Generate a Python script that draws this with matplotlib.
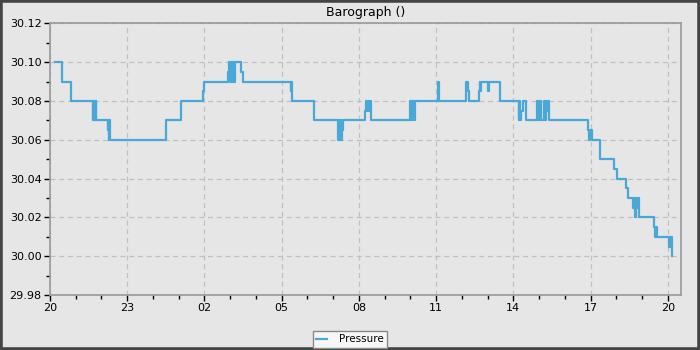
import matplotlib
matplotlib.use("Agg")
import matplotlib.pyplot as plt
from matplotlib.patches import Rectangle
from matplotlib.ticker import MultipleLocator

hours = [
    0.19, 0.47, 0.82,
    1.67, 1.69, 1.71, 1.73, 1.75, 1.77, 1.78,
    2.24, 2.26, 2.28, 2.30, 2.32,
    4.51, 5.09, 5.94, 5.98,
    6.92, 6.96, 7.00, 7.03, 7.06, 7.10, 7.13, 7.17, 7.19, 7.41, 7.48,
    9.35, 9.37, 9.39, 9.42,
    10.26,
    11.20, 11.23, 11.26, 11.29, 11.32, 11.35, 11.37,
    12.24, 12.27, 12.30, 12.36, 12.40, 12.42, 12.46,
    14.00, 14.03, 14.06, 14.09, 14.12, 14.15, 14.18,
    15.07, 15.10,
    16.18, 16.22, 16.28,
    16.66, 16.69, 16.72, 16.75,
    17.01, 17.05, 17.50,
    18.20, 18.23, 18.26, 18.30, 18.36, 18.49,
    18.91, 18.94, 18.97, 19.00, 19.03, 19.08,
    19.20, 19.23, 19.27, 19.31, 19.35, 19.39,
    20.90, 20.94, 20.98, 21.04,
    21.37, 21.90, 22.03,
    22.39, 22.44,
    22.64, 22.68, 22.72, 22.76, 22.80, 22.84, 22.87,
    23.45, 23.50, 23.54, 23.58,
    24.06, 24.10, 24.16, 24.17,
]
pressure = [
    30.100, 30.090, 30.080,
    30.070, 30.080, 30.070, 30.080, 30.070, 30.080, 30.070,
    30.065, 30.070, 30.060, 30.070, 30.060,
    30.070, 30.080, 30.085, 30.090,
    30.095, 30.100, 30.090, 30.100, 30.090, 30.100, 30.090, 30.100, 30.100, 30.095, 30.090,
    30.085, 30.090, 30.085, 30.080,
    30.070,
    30.060, 30.070, 30.060, 30.070, 30.060, 30.065, 30.070,
    30.075, 30.080, 30.075, 30.080, 30.075, 30.080, 30.070,
    30.080, 30.070, 30.080, 30.070, 30.080, 30.070, 30.080,
    30.090, 30.080,
    30.090, 30.085, 30.080,
    30.085, 30.090, 30.085, 30.090,
    30.085, 30.090, 30.080,
    30.070, 30.080, 30.070, 30.075, 30.080, 30.070,
    30.080, 30.070, 30.080, 30.070, 30.080, 30.070,
    30.080, 30.070, 30.080, 30.075, 30.080, 30.070,
    30.065, 30.060, 30.065, 30.060,
    30.050, 30.045, 30.040,
    30.035, 30.030,
    30.025, 30.030, 30.020, 30.030, 30.025, 30.030, 30.020,
    30.015, 30.010, 30.015, 30.010,
    30.005, 30.010, 30.000, 30.000,
]

tick_hours = [0, 3, 6, 9, 12, 15, 18, 21, 24]
tick_labels = ["20", "23", "02", "05", "08", "11", "14", "17", "20"]

bg = "#e6e6e6"
fig = plt.figure(figsize=(7, 3.5), dpi=100, facecolor=bg)
ax = fig.add_axes([0.0714, 0.157, 0.901, 0.7765], facecolor=bg)

ax.plot(hours, pressure, drawstyle="steps-post", color="#4aa8d8", lw=1.6,
        label="Pressure")

ax.set_xlim(0, 24.5)
ax.set_ylim(29.98, 30.12)
ax.set_xticks(tick_hours)
ax.set_xticklabels(tick_labels)
ax.xaxis.set_minor_locator(MultipleLocator(1))
ax.yaxis.set_major_locator(MultipleLocator(0.02))
ax.yaxis.set_minor_locator(MultipleLocator(0.01))
ax.yaxis.set_major_formatter(matplotlib.ticker.FormatStrFormatter("%.2f"))

ax.grid(True, which="major", ls=(0, (4, 3)), color="#c0c0c0", lw=0.9)
ax.set_axisbelow(True)
for s in ax.spines.values():
    s.set_color("#999999")
    s.set_linewidth(1.2)
ax.tick_params(which="major", length=4, width=1, labelsize=8, direction="out",
               top=False, right=False, color="black", pad=2)
ax.tick_params(which="minor", length=3, width=1, top=False, right=False,
               color="black")

ax.set_title("Barograph ()", fontsize=9, pad=5)

fig.legend(loc="center", bbox_to_anchor=(0.5, 0.031), fontsize=7.5,
           frameon=True, fancybox=False, edgecolor="#888888",
           facecolor="#f7f7f7", framealpha=1, handlelength=1.0,
           borderpad=0.35, handletextpad=1.2, borderaxespad=0)

fig.patches.append(Rectangle((0, 0), 1, 1, transform=fig.transFigure,
                             fill=False, edgecolor="#444444", lw=4))

fig.savefig("out.png", dpi=100, facecolor=bg)
